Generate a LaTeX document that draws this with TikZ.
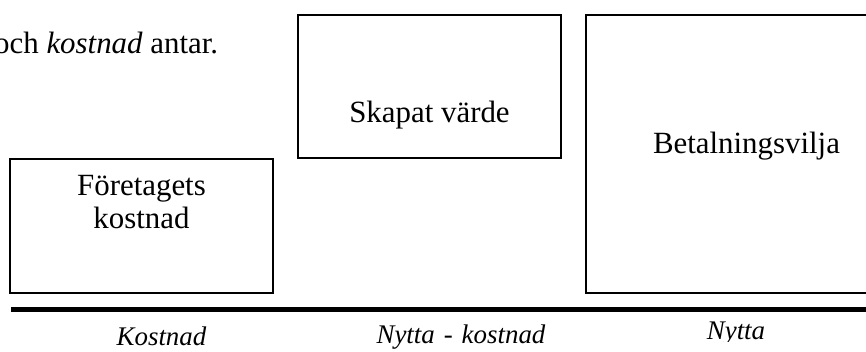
\documentclass[tikz,border=0pt]{standalone}
\usepackage{fontspec}
\setmainfont{Liberation Serif}
\begin{document}
\begin{tikzpicture}[x=1bp,y=-1bp,
  box/.style={draw=black, line width=1.3bp, inner sep=0pt, rectangle},
  boxtext/.style={inner sep=0pt, align=center, font=\fontsize{31}{33}\selectfont},
  axislabel/.style={inner sep=0pt, anchor=base, font=\fontsize{27}{29}\selectfont\itshape}]
\useasboundingbox (0,0) rectangle (866,351);
\clip (0,0) rectangle (866,351);
% intro text
\node[inner sep=0pt, anchor=base west, font=\fontsize{31}{33}\selectfont] (intro) at (-6,53) {och \textit{kostnad} antar.};
% boxes
\node[box, minimum width=263bp, minimum height=134bp] (cost) at (141.5,226) {};
\node[box, minimum width=263bp, minimum height=143bp] (value) at (429.5,86.5) {};
\node[box, minimum width=321bp, minimum height=278bp] (wtp) at (746.5,154) {};
% box texts
\node[boxtext, anchor=base] (costtext) at (141.5,228) {Företagets\\kostnad};
\node[boxtext, anchor=base] (valuetext) at (429.5,122) {Skapat värde};
\node[boxtext, anchor=base] (wtptext) at (746.5,153) {Betalningsvilja};
% axis
\coordinate (axl) at (11,309.5);
\coordinate (axr) at (870,309.5);
\draw[line width=5bp] (axl) -- (axr);
% labels
\node[axislabel] (lcost) at (161.5,345) {Kostnad};
\node[axislabel] (lvalue) at (461,343) {Nytta\,\,-\,\,kostnad};
\begin{scope}
\clip (600,300) rectangle (866,341);
\node[axislabel] (lwtp) at (736,339) {Nytta};
\end{scope}
\end{tikzpicture}
\end{document}
